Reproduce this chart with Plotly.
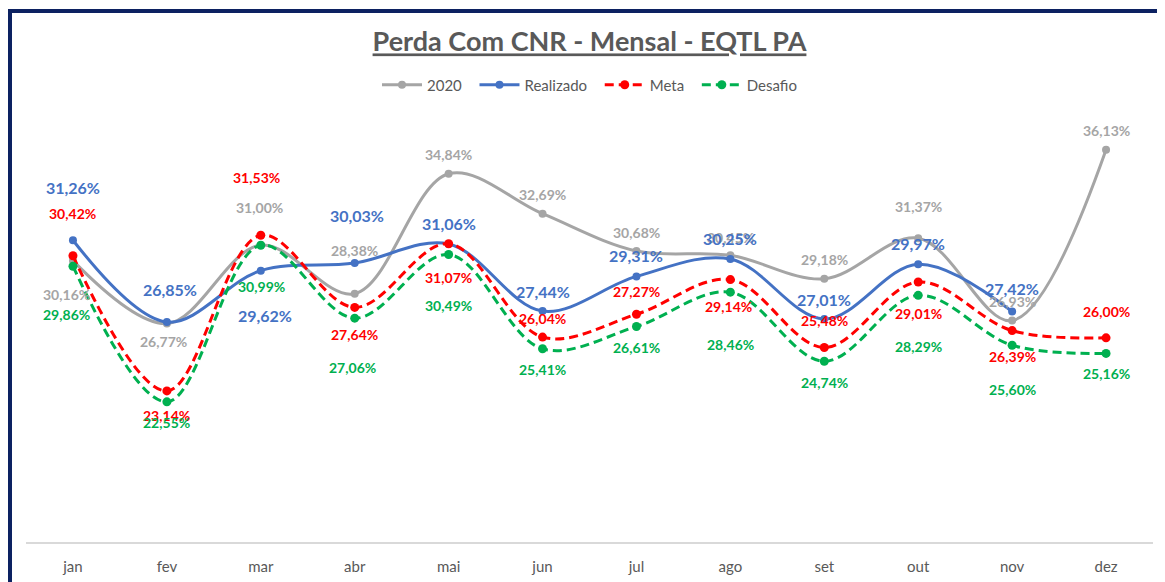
import plotly.graph_objects as go

months = ["jan", "fev", "mar", "abr", "mai", "jun", "jul", "ago", "set", "out", "nov", "dez"]
serie_2020 = [30.16, 26.77, 31.00, 28.38, 34.84, 32.69, 30.68, 30.45, 29.18, 31.37, 26.93, 36.13]
realizado = [31.26, 26.85, 29.62, 30.03, 31.06, 27.44, 29.31, 30.25, 27.01, 29.97, 27.42, None]
meta = [30.42, 23.14, 31.53, 27.64, 31.07, 26.04, 27.27, 29.14, 25.48, 29.01, 26.39, 26.00]
desafio = [29.86, 22.55, 30.99, 27.06, 30.49, 25.41, 26.61, 28.46, 24.74, 28.29, 25.60, 25.16]

# label offsets in pixels (layout only): vertical shift (up positive) and horizontal shift
lbl_dy_2020 = [-34, -18, 38, 43, 19, 19, 18, 18, 19, 32, 19, 19]
lbl_dx_2020 = [-6, -3, -1, 0, 0, 0, 0, 0, 0, 0, 0, 0]
lbl_dy_real = [53, 33, -45, 48, 20, 20, 21, 20, 20, 21, 23, 0]
lbl_dx_real = [0, 3, 4, 2, 0, 0, 0, 0, 0, 0, 0, 0]
lbl_dy_meta = [42, -25, 58, -27, -34, 19, 23, -27, 27, -32, -26, 26]
lbl_dx_meta = [0, 0, -4, 0, 0, 0, 0, -2, 0, 0, 0, 0]
lbl_dy_des = [-48, -21, -41, -49, -51, -21, -21, -52, -21, -51, -44, -20]
lbl_dx_des = [-6, 0, 1, -2, 0, 0, 0, 0, 0, 0, 0, 0]

GRAY = "#A5A5A5"
BLUE = "#4472C4"
RED = "#FF0000"
GREEN = "#00B050"
TEXT = "#595959"
FONT = "Lato"
PAD = "\u00a0\u00a0"

# page body has an 8px margin; figure is sized to fit the window
W, H = 1157, 574
L, R, T, B = 18, 12, 70, 40
PW, PH = W - L - R, H - T - B

fig = go.Figure()

series = [
    ("2020", serie_2020, GRAY, "solid", 8, lbl_dy_2020, lbl_dx_2020, 14),
    ("Realizado", realizado, BLUE, "solid", 8, lbl_dy_real, lbl_dx_real, 16),
    ("Meta", meta, RED, "9px,5px", 9, lbl_dy_meta, lbl_dx_meta, 14),
    ("Desafio", desafio, GREEN, "9px,5px", 9, lbl_dy_des, lbl_dx_des, 14),
]

for i, (name, vals, color, dash, msize, _, _, _) in enumerate(series):
    fig.add_trace(go.Scatter(
        x=months, y=vals, name=name + (PAD if i < len(series) - 1 else ""),
        mode="lines+markers",
        line=dict(color=color, width=3, dash=dash, shape="spline", smoothing=1.0),
        marker=dict(color=color, size=msize, symbol="circle"),
        connectgaps=False, hoverinfo="skip",
    ))

annotations = []
for name, vals, color, dash, msize, dys, dxs, fsize in series:
    for m, v, dy, dx in zip(months, vals, dys, dxs):
        if v is None:
            continue
        annotations.append(dict(
            x=m, y=v, xref="x", yref="y",
            text=f"{v:.2f}".replace(".", ",") + "%",
            showarrow=False, yshift=dy, xshift=dx,
            font=dict(family=FONT, size=fsize, color=color, weight="bold"),
        ))

fig.update_layout(
    width=W, height=H,
    margin=dict(l=L, r=R, t=T, b=B, autoexpand=False),
    paper_bgcolor="white", plot_bgcolor="white",
    title=dict(
        text="<b>Perda Com CNR - Mensal - EQTL PA</b>",
        x=0.5, xref="paper", xanchor="center",
        y=1 - 34 / H, yanchor="middle",
        font=dict(family=FONT, size=27, color=TEXT, lineposition="under"),
    ),
    legend=dict(
        orientation="h", x=0.5, xanchor="center", y=1 - 7 / PH, yanchor="middle",
        font=dict(family=FONT, size=15, color=TEXT),
        bgcolor="rgba(0,0,0,0)", itemwidth=40, tracegroupgap=0,
    ),
    xaxis=dict(
        type="category", range=[-0.5, 11.5],
        showline=True, linecolor="#D9D9D9", linewidth=2,
        showgrid=False, zeroline=False, ticks="",
        tickfont=dict(family=FONT, size=15, color=TEXT),
        ticklabelstandoff=10, fixedrange=True,
    ),
    yaxis=dict(
        range=[15, 40], visible=False, showgrid=False, zeroline=False, fixedrange=True,
    ),
    annotations=annotations,
    shapes=[dict(
        type="rect", xref="paper", yref="paper",
        x0=(2 - L) / PW, x1=(W + 20 - L) / PW,
        y0=-(B + 30) / PH, y1=(PH + T - 3) / PH,
        line=dict(color="#0C2161", width=4), fillcolor="rgba(0,0,0,0)",
        layer="above",
    )],
    showlegend=True,
)

fig.write_html("out.html")
